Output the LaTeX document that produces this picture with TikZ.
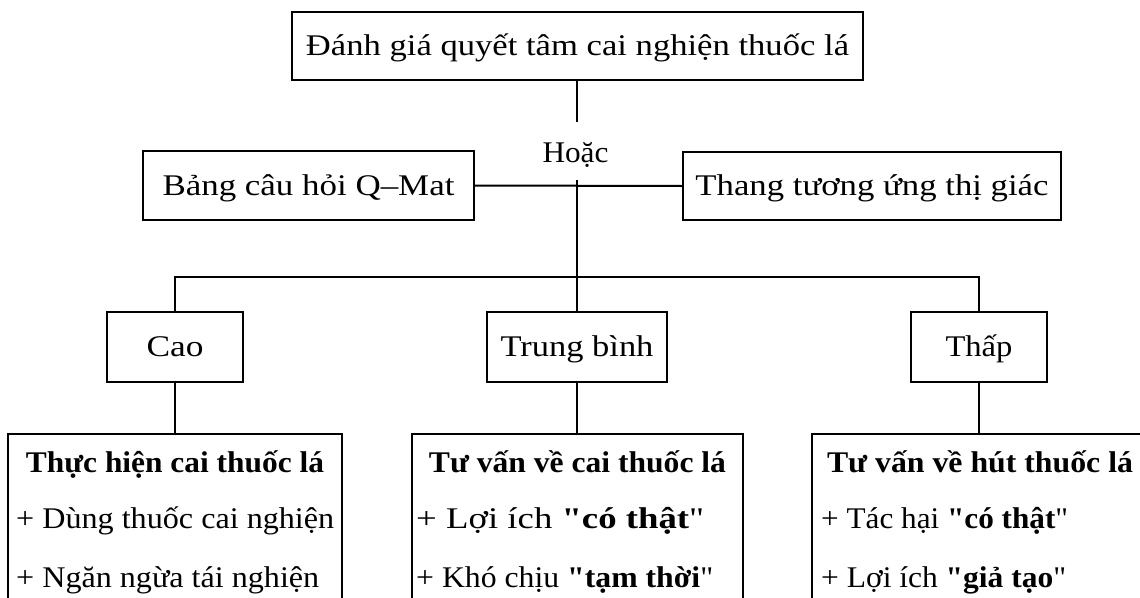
\documentclass[tikz,border=0pt]{standalone}
\usepackage{fontspec}
\setmainfont{Liberation Serif}
\newfontfamily\qfont[Ligatures=ResetAll]{Liberation Serif}
\usepackage{graphicx}
\newcommand{\fitw}[2]{\resizebox{#1}{\height}{#2}}
\newcommand{\sq}{{\qfont\char34\relax}}
\begin{document}
\begin{tikzpicture}[x=1pt,y=-1pt,
  box/.style={draw,line width=2.2pt,inner sep=0pt,text height=25pt,text depth=6pt,font=\fontsize{30}{36}\selectfont},
  bigbox/.style={draw,line width=2.2pt,inner sep=0pt,anchor=north,minimum height=250pt},
  conn/.style={line width=2pt},
  txt/.style={inner sep=0pt,font=\fontsize{30}{36}\selectfont}]
\useasboundingbox (0,0) rectangle (1140,597);

\node[box,minimum width=571pt,minimum height=68pt] (top) at (577.5,46) {\fitw{543pt}{Đánh giá quyết tâm cai nghiện thuốc lá}};
\node[txt,anchor=base] (hoac) at (575.5,162) {\fitw{66pt}{Hoặc}};
\node[box,minimum width=331pt,minimum height=69pt] (q) at (308.5,185.5) {\fitw{292pt}{Bảng câu hỏi Q–Mat}};
\node[box,minimum width=378pt,minimum height=68pt] (vis) at (872,186) {\fitw{353pt}{Thang tương ứng thị giác}};
\node[box,minimum width=136pt,minimum height=70pt] (cao) at (175,347) {\fitw{57pt}{Cao}};
\node[box,minimum width=180pt,minimum height=70pt] (tb) at (577,347) {\fitw{153pt}{Trung bình}};
\node[box,minimum width=136pt,minimum height=70pt] (thap) at (979,347) {\fitw{67pt}{Thấp}};

\node[bigbox,minimum width=334pt] (b1) at (175,433) {};
\node[bigbox,minimum width=331pt] (b2) at (577.5,433) {};
\node[bigbox,minimum width=336pt] (b3) at (980,433) {};

\node[txt,anchor=base] (b1t) at (175,472) {\fitw{298pt}{\bfseries Thực hiện cai thuốc lá}};
\node[txt,anchor=base west] (b1a) at (16,528) {\fitw{318pt}{+ Dùng thuốc cai nghiện}};
\node[txt,anchor=base west] (b1b) at (16,587) {\fitw{303pt}{+ Ngăn ngừa tái nghiện}};
\node[txt,anchor=base] (b2t) at (577.5,472) {\fitw{297pt}{\bfseries Tư vấn về cai thuốc lá}};
\node[txt,anchor=base west] (b2a) at (416,528) {\fitw{288pt}{+ Lợi ích \textbf{\sq có thật}\sq}};
\node[txt,anchor=base west] (b2b) at (416,587) {\fitw{297pt}{+ Khó chịu \textbf{\sq tạm thời}\sq}};
\node[txt,anchor=base] (b3t) at (980,472) {\fitw{306pt}{\bfseries Tư vấn về hút thuốc lá}};
\node[txt,anchor=base west] (b3a) at (821,528) {\fitw{247pt}{+ Tác hại \textbf{\sq có thật}\sq}};
\node[txt,anchor=base west] (b3b) at (821,587) {\fitw{245pt}{+ Lợi ích \textbf{\sq giả tạo}\sq}};

\coordinate (ht) at (577,122);
\coordinate (hb) at (577,180);
\coordinate (bar) at (577,277);
\draw[conn] (top.south -| ht) -- (ht);
\draw[conn] (q.east) -- (vis.west);
\draw[conn] (hb) -- (tb.north);
\draw[conn] (cao.north) -- (cao.north |- bar) -- (thap.north |- bar) -- (thap.north);
\draw[conn] (cao.south) -- (b1.north);
\draw[conn] (tb.south) -- (tb.south |- b2.north);
\draw[conn] (thap.south) -- (thap.south |- b3.north);
\end{tikzpicture}
\end{document}
